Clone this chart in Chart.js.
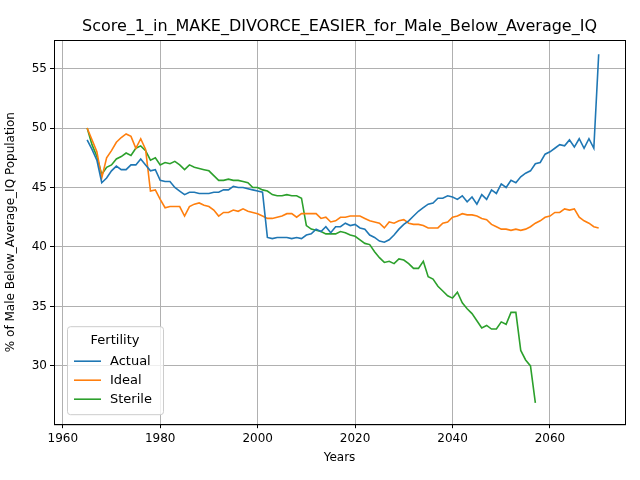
<!DOCTYPE html>
<html>
<head>
<meta charset="utf-8">
<script src="https://cdn.jsdelivr.net/npm/chart.js@4"></script>
<style>body{margin:0;background:#fff}#c{width:640px;height:480px}</style>
</head>
<body>
<div id="c"><canvas id="chart" width="640" height="480"></canvas></div>
<script>
const years = Array.from({length: 106}, (_, i) => 1965 + i);

const actual = [49.0,48.2,47.3,45.4,45.8,46.4,46.8,46.5,46.5,46.9,46.9,47.4,46.9,46.4,46.5,45.6,45.5,45.5,45.0,44.7,
  44.4,44.6,44.6,44.5,44.5,44.5,44.6,44.6,44.8,44.8,45.1,45.0,45.0,44.9,44.8,44.7,44.6,40.8,40.7,40.8,
  40.8,40.8,40.7,40.8,40.7,41.0,41.1,41.5,41.3,41.7,41.2,41.7,41.7,42.0,41.8,41.9,41.6,41.5,41.0,40.8,
  40.5,40.4,40.6,41.0,41.5,41.9,42.2,42.6,43.0,43.3,43.6,43.7,44.1,44.1,44.3,44.2,44.0,44.3,43.8,44.2,
  43.6,44.4,44.0,44.8,44.5,45.3,45.0,45.6,45.4,45.9,46.2,46.4,47.0,47.1,47.8,48.0,48.3,48.6,48.5,49.0,
  48.4,49.1,48.3,49.1,48.3,56.2];

const ideal = [50.0,49.0,48.0,45.8,47.5,48.1,48.8,49.2,49.5,49.3,48.3,49.1,48.2,44.7,44.8,44.0,43.3,43.4,43.4,43.4,
  42.6,43.4,43.6,43.7,43.5,43.4,43.1,42.6,42.9,42.9,43.1,43.0,43.2,43.0,42.9,42.8,42.6,42.4,42.4,42.5,
  42.6,42.8,42.8,42.5,42.8,42.8,42.8,42.8,42.4,42.5,42.1,42.2,42.5,42.5,42.6,42.6,42.6,42.4,42.2,42.1,
  42.0,41.6,42.1,42.0,42.2,42.3,42.0,41.9,41.9,41.8,41.6,41.6,41.6,42.0,42.1,42.5,42.6,42.8,42.7,42.7,
  42.6,42.4,42.3,41.9,41.7,41.5,41.5,41.4,41.5,41.4,41.5,41.7,42.0,42.2,42.5,42.6,42.9,42.9,43.2,43.1,
  43.2,42.5,42.2,42.0,41.7,41.6];

const sterile = [50.0,48.6,47.6,46.1,46.7,46.9,47.4,47.6,47.9,47.7,48.3,48.5,48.1,47.3,47.5,46.9,47.1,47.0,47.2,46.9,
  46.5,46.9,46.7,46.6,46.5,46.4,46.0,45.6,45.6,45.7,45.6,45.6,45.5,45.4,45.0,45.0,44.8,44.7,44.4,44.3,
  44.3,44.4,44.3,44.3,44.1,41.8,41.5,41.4,41.3,41.1,41.1,41.1,41.3,41.2,41.0,40.9,40.6,40.3,40.2,39.6,
  39.1,38.7,38.8,38.6,39.0,38.9,38.6,38.2,38.2,38.8,37.5,37.3,36.7,36.3,35.9,35.7,36.2,35.3,34.8,34.4,
  33.8,33.2,33.4,33.1,33.1,33.7,33.5,34.5,34.5,31.3,30.5,30.0,26.9];

const seriesNames = ['Actual', 'Ideal', 'Sterile'];
const seriesColors = ['#1f77b4', '#ff7f0e', '#2ca02c'];
const seriesValues = [actual, ideal, sterile];
const chartTitle = 'Score_1_in_MAKE_DIVORCE_EASIER_for_Male_Below_Average_IQ';

const FONT = 'DejaVu Sans';
Chart.defaults.font.family = FONT;
Chart.defaults.color = '#000';

// frame, title centred over the plot and a matplotlib-style legend inside it
const decorations = {
  id: 'decorations',
  afterDraw(chart) {
    const {ctx, chartArea} = chart;
    ctx.save();
    ctx.strokeStyle = '#000';
    ctx.lineWidth = 1;
    ctx.strokeRect(chartArea.left + 0.5, chartArea.top + 0.5,
      chartArea.right - chartArea.left, chartArea.bottom - chartArea.top);

    ctx.fillStyle = '#000';
    ctx.font = '16px ' + FONT;
    ctx.textAlign = 'center';
    ctx.textBaseline = 'alphabetic';
    ctx.fillText(chartTitle, (chartArea.left + chartArea.right) / 2, chartArea.top - 9);

    const x = chartArea.left + 13, y = chartArea.bottom - 98, w = 96, h = 88;
    ctx.fillStyle = 'rgba(255,255,255,0.8)';
    ctx.strokeStyle = '#ccc';
    ctx.beginPath();
    ctx.roundRect(x + 0.5, y + 0.5, w, h, 3);
    ctx.fill();
    ctx.stroke();
    ctx.fillStyle = '#000';
    ctx.font = '13px ' + FONT;
    ctx.textBaseline = 'middle';
    ctx.fillText('Fertility', x + w / 2, y + 14);
    ctx.textAlign = 'left';
    seriesNames.forEach((name, i) => {
      const ly = y + 35 + i * 19;
      ctx.strokeStyle = seriesColors[i];
      ctx.lineWidth = 1.6;
      ctx.beginPath();
      ctx.moveTo(x + 7, ly);
      ctx.lineTo(x + 34, ly);
      ctx.stroke();
      ctx.fillText(name, x + 43, ly);
    });
    ctx.restore();
  }
};

new Chart(document.getElementById('chart'), {
  type: 'scatter',
  data: {
    datasets: seriesNames.map((name, i) => ({
      label: name,
      data: seriesValues[i].map((v, j) => ({x: years[j], y: v})),
      showLine: true,
      borderColor: seriesColors[i],
      backgroundColor: seriesColors[i],
      borderWidth: 1.6,
      pointRadius: 0,
      tension: 0
    }))
  },
  options: {
    responsive: false,
    animation: false,
    layout: {padding: {top: 40, right: 15, bottom: 11, left: 0}},
    plugins: {
      legend: {display: false},
      tooltip: {enabled: false},
      title: {display: false}
    },
    scales: {
      x: {
        type: 'linear',
        min: 1958.2, max: 2075.4,
        afterBuildTicks(axis) { axis.ticks = [1960, 1980, 2000, 2020, 2040, 2060].map(v => ({value: v})); },
        ticks: {font: {size: 12}, callback: v => String(v)},
        grid: {color: '#b0b0b0', tickLength: 4, tickColor: '#000'},
        border: {color: '#000'},
        title: {display: true, text: 'Years', font: {size: 12}, padding: {top: 2}}
      },
      y: {
        min: 25.1, max: 57.4,
        afterBuildTicks(axis) { axis.ticks = [30, 35, 40, 45, 50, 55].map(v => ({value: v})); },
        afterFit(axis) { axis.width = 54; },
        ticks: {font: {size: 12}},
        grid: {color: '#b0b0b0', tickLength: 4, tickColor: '#000'},
        border: {color: '#000'},
        title: {display: true, text: '% of Male Below_Average_IQ Population', font: {size: 12}}
      }
    }
  },
  plugins: [decorations]
});
</script>
</body>
</html>
